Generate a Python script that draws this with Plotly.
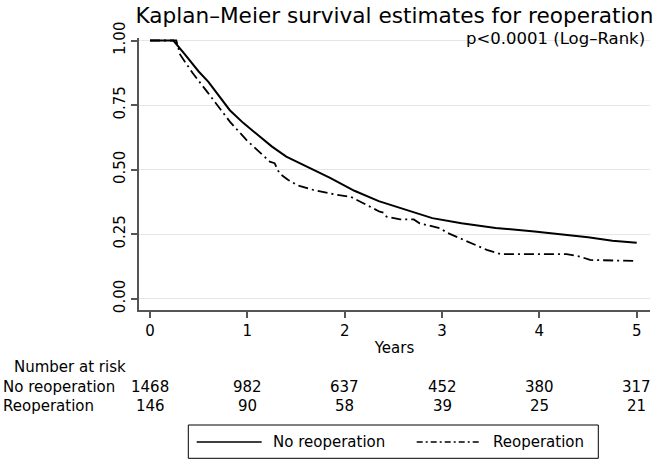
import plotly.graph_objects as go

# ---- data ----
years_no = [0, 0.24, 0.35, 0.5, 0.6, 0.7, 0.82, 0.96, 1.1, 1.25, 1.4, 1.6, 1.85, 2.1,
            2.35, 2.6, 2.9, 3.2, 3.55, 3.95, 4.25, 4.5, 4.75, 5.0]
surv_no = [1.0, 1.0, 0.95, 0.88, 0.84, 0.79, 0.73, 0.68, 0.635, 0.59, 0.55, 0.515, 0.468, 0.418,
           0.378, 0.348, 0.312, 0.292, 0.274, 0.260, 0.249, 0.238, 0.224, 0.217]

years_re = [0, 0.27, 0.31, 0.44, 0.58, 0.72, 0.82, 0.99, 1.17, 1.23, 1.28, 1.33, 1.42, 1.51,
            1.68, 1.92, 2.06, 2.19, 2.36, 2.40, 2.43, 2.57, 2.71, 2.77, 2.91, 2.98, 3.05,
            3.19, 3.33, 3.46, 3.60, 4.28, 4.42, 4.52, 5.0]
surv_re = [1.0, 1.0, 0.945, 0.873, 0.805, 0.735, 0.686, 0.615, 0.55, 0.531, 0.525, 0.485, 0.46, 0.44,
           0.421, 0.402, 0.395, 0.37, 0.337, 0.333, 0.318, 0.307, 0.307, 0.292, 0.279, 0.273, 0.256,
           0.234, 0.212, 0.189, 0.173, 0.173, 0.163, 0.15, 0.146]

risk_times = [0, 1, 2, 3, 4, 5]
risk_no = [1468, 982, 637, 452, 380, 317]
risk_re = [146, 90, 58, 39, 25, 21]

x_ticks = [0, 1, 2, 3, 4, 5]
y_ticks = [0, 0.25, 0.5, 0.75, 1.0]

group_names = ["No reoperation", "Reoperation"]

# ---- layout geometry ----
W, H = 653, 460
ML, MR, MT, MB = 139, 3, 38, 150
PW, PH = W - ML - MR, H - MT - MB
FONT = "DejaVu Sans"


def px(xp):
    return (xp - ML) / PW


def py(yp):
    return (H - MB - yp) / PH


fig = go.Figure()
fig.add_trace(go.Scatter(x=years_no, y=surv_no, mode="lines", name=group_names[0],
                         line=dict(color="black", width=2), showlegend=False))
fig.add_trace(go.Scatter(x=years_re, y=surv_re, mode="lines", name=group_names[1],
                         line=dict(color="black", width=1.8, dash="10px,4px,2px,4px"),
                         showlegend=False))

annotations = []
# p-value
annotations.append(dict(text="p<0.0001 (Log\u2013Rank)", xref="paper", yref="paper",
                        x=px(647), y=py(38), xanchor="right", yanchor="middle",
                        showarrow=False, font=dict(family=FONT, size=16.5, color="black")))
# risk table
annotations.append(dict(text="Number at risk", xref="paper", yref="paper",
                        x=px(11.5), y=py(367.3), xanchor="left", yanchor="middle",
                        showarrow=False, font=dict(family=FONT, size=15, color="black")))
for name, yp in zip(group_names, [386.7, 406]):
    annotations.append(dict(text=name, xref="paper", yref="paper",
                            x=px(0.5), y=py(yp), xanchor="left", yanchor="middle",
                            showarrow=False, font=dict(family=FONT, size=15, color="black")))
for t, a, b in zip(risk_times, risk_no, risk_re):
    annotations.append(dict(text=str(a), xref="x", yref="paper", x=t, y=py(386.7),
                            xanchor="center", yanchor="middle", showarrow=False,
                            font=dict(family=FONT, size=15, color="black")))
    annotations.append(dict(text=str(b), xref="x", yref="paper", x=t, y=py(406),
                            xanchor="center", yanchor="middle", showarrow=False,
                            font=dict(family=FONT, size=15, color="black")))
# legend labels
annotations.append(dict(text=group_names[0], xref="paper", yref="paper",
                        x=px(270.5), y=py(442), xanchor="left", yanchor="middle",
                        showarrow=False, font=dict(family=FONT, size=15, color="black")))
annotations.append(dict(text=group_names[1], xref="paper", yref="paper",
                        x=px(490.5), y=py(442), xanchor="left", yanchor="middle",
                        showarrow=False, font=dict(family=FONT, size=15, color="black")))

shapes = [
    dict(type="rect", xref="paper", yref="paper", x0=px(188.3), x1=px(598.3),
         y0=py(458.3), y1=py(425), line=dict(color="black", width=1), fillcolor="rgba(0,0,0,0)"),
    dict(type="line", xref="paper", yref="paper", x0=px(196.7), x1=px(261.7),
         y0=py(442), y1=py(442), line=dict(color="black", width=1.5)),
    dict(type="line", xref="paper", yref="paper", x0=px(416.7), x1=px(481.7),
         y0=py(442), y1=py(442), line=dict(color="black", width=1.5, dash="6px,3px,2px,3px")),
]

x0_pix, x_per = 150.0, 97.34
y0_pix, y_per = 298.7, 258.2
xr = [(ML - x0_pix) / x_per, (W - MR - x0_pix) / x_per]
yr = [(y0_pix - (H - MB)) / y_per, (y0_pix - MT) / y_per]

fig.update_layout(
    width=W, height=H,
    margin=dict(l=ML, r=MR, t=MT, b=MB, pad=0),
    paper_bgcolor="white", plot_bgcolor="white",
    font=dict(family=FONT, size=15, color="black"),
    title=dict(text="Kaplan\u2013Meier survival estimates for reoperation",
               x=0.5, xref="paper", xanchor="center", y=1 - 15 / H, yref="container",
               yanchor="middle", font=dict(family=FONT, size=21.6, color="black")),
    xaxis=dict(range=xr, tickvals=x_ticks, ticktext=[str(v) for v in x_ticks],
               showgrid=False, zeroline=False, showline=True, linecolor="#555555", linewidth=1.5,
               ticks="outside", ticklen=6, tickcolor="#555555", tickwidth=1.5,
               tickfont=dict(family=FONT, size=15, color="black"),
               title=dict(text="Years", font=dict(family=FONT, size=15, color="black"), standoff=4)),
    yaxis=dict(range=yr, tickvals=y_ticks, tickformat=".2f",
               showgrid=True, gridcolor="#e6e6e6", gridwidth=1, zeroline=False,
               showline=True, linecolor="#555555", linewidth=1.5,
               ticks="outside", ticklen=6, tickcolor="#555555", tickwidth=1.5,
               tickangle=-90, tickfont=dict(family=FONT, size=15, color="black")),
    annotations=annotations,
    shapes=shapes,
    showlegend=False,
)

fig.write_html(
    "out.html",
    config={"displayModeBar": False},
    post_script="document.body.style.margin='0px';document.body.style.padding='0px';"
                "document.body.style.overflow='hidden';",
)
